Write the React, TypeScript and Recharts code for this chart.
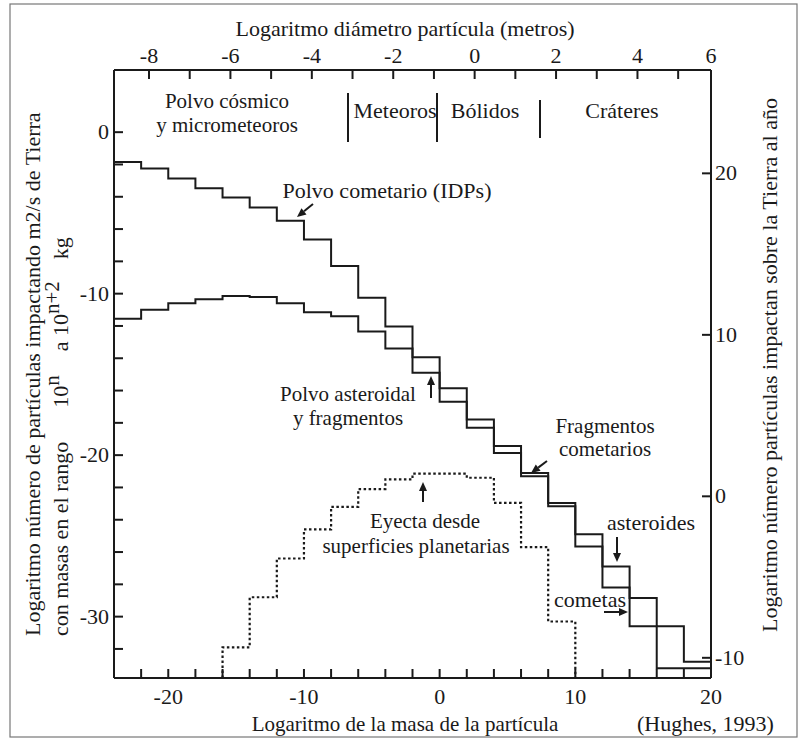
import { LineChart, Line, XAxis, YAxis } from "recharts";

// bins of 2 units of log mass (kg), value = log number (left axis)
const binStarts = [-24, -22, -20, -18, -16, -14, -12, -10, -8, -6, -4, -2, 0, 2, 4, 6, 8, 10, 12, 14, 16, 18];
const cometValues = [-1.84, -2.25, -2.87, -3.48, -4.04, -4.66, -5.48, -6.64, -8.29, -10.25, -12.04, -13.94, -15.85, -17.8, -19.44, -21.1, -22.96, -24.9, -28.2, -30.6, -33.2, -33.2];
const asteroidValues = [-11.56, -11.0, -10.6, -10.35, -10.15, -10.2, -10.6, -11.15, -11.4, -12.35, -13.4, -14.9, -16.7, -18.3, -19.87, -21.3, -23.17, -25.65, -26.9, -28.85, -30.6, -32.8];
const ejectaStarts = [-16, -14, -12, -10, -8, -6, -4, -2, 0, 2, 4, 6, 8];
const ejectaValues = [-31.9, -28.8, -26.4, -24.6, -23.2, -22.1, -21.5, -21.15, -21.15, -21.4, -22.96, -25.7, -30.3];

const massDomain = [-24, 20];
const leftDomain = [-33.8, 3.85];
const rightDomain = [-11.25, 26.4];
const diamAtLeft = -8.86; // log diameter at the left edge; mass = 3 * diameter + const

const leftTicks = [0, -2, -4, -6, -8, -10, -12, -14, -16, -18, -20, -22, -24, -26, -28, -30, -32];
const leftLabels = [0, -10, -20, -30];
const rightTicks = [20, 10, 0, -10];
const bottomTicks = [-22, -20, -18, -16, -14, -12, -10, -8, -6, -4, -2, 0, 2, 4, 6, 8, 10, 12, 14, 16, 18, 20];
const bottomLabels = [-20, -10, 0, 10, 20];
const diamTicks = [-8, -7, -6, -5, -4, -3, -2, -1, 0, 1, 2, 3, 4, 5];
const topLabels = [-8, -6, -4, -2, 0, 2, 4, 6];

const massOfDiam = (d: number) => massDomain[0] + 3 * (d - diamAtLeft);
const diamOfMass = (m: number) => (m - massDomain[0]) / 3 + diamAtLeft;
const topTicks = [...diamTicks.map(massOfDiam), massDomain[1]];

const W = 803;
const H = 740;
// axes are 1px thick, so plot box is x 114..711, y 70..678
const M = { top: 69, right: 91, bottom: 61, left: 113 };
const INK = "#1a1a1a";
const FONT = "'Liberation Serif', 'Times New Roman', serif";
const FS = 22;

const steps = (starts: number[], values: number[], end: number) => [
  ...starts.map((x, i) => ({ x, y: values[i] })),
  { x: end, y: values[values.length - 1] },
];

const cometData = steps(binStarts, cometValues, massDomain[1]);
const asteroidData = steps(binStarts, asteroidValues, massDomain[1]);
const ejectaData = [
  { x: ejectaStarts[0], y: leftDomain[0] },
  ...steps(ejectaStarts, ejectaValues, 10),
  { x: 10, y: leftDomain[0] },
];

function LeftTick(props: any) {
  const { x, y, payload } = props;
  const v = payload.value as number;
  return (
    <g>
      <line x1={x} y1={y} x2={x + 9} y2={y} stroke={INK} strokeWidth={2} />
      {leftLabels.includes(v) && (
        <text x={x - 5} y={y + 7} textAnchor="end" fontSize={FS} fontFamily={FONT} fill={INK}>
          {v}
        </text>
      )}
    </g>
  );
}

function RightTick(props: any) {
  const { x, y, payload } = props;
  return (
    <g>
      <line x1={x - 9} y1={y} x2={x} y2={y} stroke={INK} strokeWidth={2} />
      <text x={x + 4} y={y + 7} textAnchor="start" fontSize={FS} fontFamily={FONT} fill={INK}>
        {payload.value}
      </text>
    </g>
  );
}

function BottomTick(props: any) {
  const { x, y, payload } = props;
  const v = payload.value as number;
  return (
    <g>
      <line x1={x} y1={y - 9} x2={x} y2={y} stroke={INK} strokeWidth={2} />
      {bottomLabels.includes(v) && (
        <text x={x} y={y + 26} textAnchor="middle" fontSize={FS} fontFamily={FONT} fill={INK}>
          {v}
        </text>
      )}
    </g>
  );
}

function TopTick(props: any) {
  const { x, y, payload } = props;
  const d = Math.round(diamOfMass(payload.value as number));
  return (
    <g>
      <line x1={x} y1={y} x2={x} y2={y + 9} stroke={INK} strokeWidth={2} />
      {topLabels.includes(d) && (
        <text x={x} y={y - 7} textAnchor="middle" fontSize={FS} fontFamily={FONT} fill={INK}>
          {d}
        </text>
      )}
    </g>
  );
}

function Arrow({ x1, y1, x2, y2 }: { x1: number; y1: number; x2: number; y2: number }) {
  const a = Math.atan2(y2 - y1, x2 - x1);
  const L = 9;
  const w = 4;
  const bx = x2 - L * Math.cos(a);
  const by = y2 - L * Math.sin(a);
  const px = -Math.sin(a) * w;
  const py = Math.cos(a) * w;
  return (
    <g>
      <line x1={x1} y1={y1} x2={bx} y2={by} stroke={INK} strokeWidth={2} />
      <polygon points={`${x2},${y2} ${bx + px},${by + py} ${bx - px},${by - py}`} fill={INK} />
    </g>
  );
}

const txt = { fontFamily: FONT, fontSize: FS, fill: INK } as const;
const txt2 = { fontFamily: FONT, fontSize: 21, fill: INK } as const;

const axisCommon = {
  type: "number" as const,
  allowDataOverflow: true,
  interval: 0 as const,
  tickSize: 0,
  tickMargin: 0,
  tickLine: false,
  axisLine: { stroke: INK, strokeWidth: 2 },
};

export default function App() {
  return (
    <div style={{ position: "absolute", left: 0, top: 0, width: W, height: H, background: "#fff" }}>
      <LineChart width={W} height={H} margin={M}>
        <XAxis {...axisCommon} xAxisId="bottom" dataKey="x" domain={massDomain} ticks={bottomTicks} height={1} tick={<BottomTick />} />
        <XAxis {...axisCommon} xAxisId="top" orientation="top" dataKey="x" domain={massDomain} ticks={topTicks} height={1} tick={<TopTick />} />
        <YAxis {...axisCommon} yAxisId="left" domain={leftDomain} ticks={leftTicks} width={1} tick={<LeftTick />} />
        <YAxis {...axisCommon} yAxisId="right" orientation="right" domain={rightDomain} ticks={rightTicks} width={1} tick={<RightTick />} />
        <Line
          xAxisId="top"
          yAxisId="left"
          data={cometData}
          dataKey="y"
          type="stepAfter"
          stroke={INK}
          strokeWidth={2}
          dot={false}
          isAnimationActive={false}
        />
        <Line
          xAxisId="bottom"
          yAxisId="left"
          data={asteroidData}
          dataKey="y"
          type="stepAfter"
          stroke={INK}
          strokeWidth={2}
          dot={false}
          isAnimationActive={false}
        />
        <Line
          xAxisId="bottom"
          yAxisId="left"
          data={ejectaData}
          dataKey="y"
          type="stepAfter"
          stroke={INK}
          strokeWidth={2.2}
          strokeDasharray="2.5 2.5"
          dot={false}
          isAnimationActive={false}
        />
      </LineChart>

      <svg width={W} height={H} style={{ position: "absolute", left: 0, top: 0, pointerEvents: "none" }}>
        <rect x={10} y={4} width={787} height={733} fill="none" stroke="#777" strokeWidth={1.2} />

        <text x={405} y={36} textAnchor="middle" {...txt}>Logaritmo diámetro partícula (metros)</text>
        <text x={405} y={731} textAnchor="middle" {...txt2}>Logaritmo de la masa de la partícula</text>
        <text x={637} y={731} textAnchor="start" {...txt}>(Hughes, 1993)</text>

        <text transform="translate(40,636) rotate(-90)" textAnchor="start" {...txt}>
          Logaritmo número de partículas impactando m2/s  de Tierra
        </text>
        <text transform="translate(68,636) rotate(-90)" textAnchor="start" {...txt}>
          con masas en el rango
          <tspan dx={34}>10</tspan>
          <tspan dy={-9} fontSize={21}>n</tspan>
          <tspan dy={9} dx={24}>a 10</tspan>
          <tspan dy={-9} fontSize={21}>n+2</tspan>
          <tspan dy={9} dx={22}>kg</tspan>
        </text>
        <text transform="translate(777,632) rotate(-90)" textAnchor="start" {...txt}>
          Logaritmo número partículas impactan sobre la Tierra al año
        </text>

        <text x={227} y={108} textAnchor="middle" {...txt2}>Polvo cósmico</text>
        <text x={227} y={132} textAnchor="middle" {...txt2}>y micrometeoros</text>
        <text x={395} y={118} textAnchor="middle" {...txt}>Meteoros</text>
        <text x={485} y={118} textAnchor="middle" {...txt}>Bólidos</text>
        <text x={622} y={118} textAnchor="middle" {...txt}>Cráteres</text>
        <line x1={348} y1={93} x2={348} y2={142} stroke={INK} strokeWidth={2} />
        <line x1={437} y1={93} x2={437} y2={142} stroke={INK} strokeWidth={2} />
        <line x1={540} y1={100} x2={540} y2={138} stroke={INK} strokeWidth={2} />

        <text x={387} y={198} textAnchor="middle" {...txt}>Polvo cometario (IDPs)</text>
        <Arrow x1={313} y1={204} x2={297} y2={217} />

        <text x={348} y={401} textAnchor="middle" {...txt2}>Polvo asteroidal</text>
        <text x={348} y={425} textAnchor="middle" {...txt2}>y fragmentos</text>
        <Arrow x1={431} y1={398} x2={431} y2={376} />

        <text x={605} y={433} textAnchor="middle" {...txt2}>Fragmentos</text>
        <text x={605} y={456} textAnchor="middle" {...txt2}>cometarios</text>
        <Arrow x1={547} y1={461} x2={531} y2={473} />

        <text x={425} y={528} textAnchor="middle" {...txt2}>Eyecta desde</text>
        <text x={416} y={553} textAnchor="middle" {...txt2}>superficies planetarias</text>
        <Arrow x1={423} y1={502} x2={423} y2={482} />

        <text x={651} y={530} textAnchor="middle" {...txt}>asteroides</text>
        <Arrow x1={617} y1={537} x2={617} y2={562} />

        <text x={590} y={607} textAnchor="middle" {...txt}>cometas</text>
        <Arrow x1={604} y1={612} x2={628} y2={612} />
      </svg>
    </div>
  );
}
